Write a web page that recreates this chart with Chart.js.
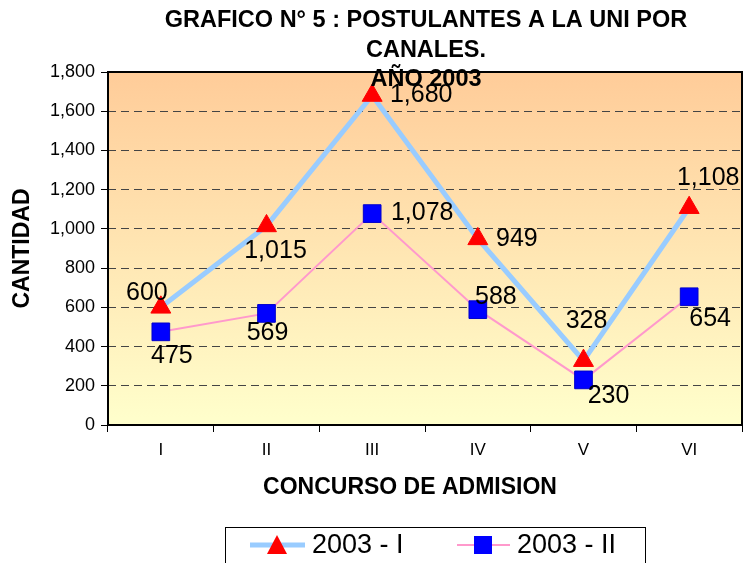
<!DOCTYPE html>
<html>
<head>
<meta charset="utf-8">
<script src="https://cdn.jsdelivr.net/npm/chart.js@4.4.1/dist/chart.umd.min.js"></script>
<style>
  html, body { margin: 0; padding: 0; background: #fff; }
  #wrap { width: 744px; height: 563px; }
</style>
</head>
<body>
<div id="wrap"><canvas id="chart" width="744" height="563"></canvas></div>
<script>
// Data
const categories = ['I', 'II', 'III', 'IV', 'V', 'VI'];
const seriesNames = ['2003 - I', '2003 - II'];
const values2003I = [600, 1015, 1680, 949, 328, 1108];
const values2003II = [475, 569, 1078, 588, 230, 654];
const titleLines = ['GRAFICO N° 5 : POSTULANTES A LA UNI POR', 'CANALES.', 'AÑO 2003'];
const yAxisTitle = 'CANTIDAD';
const xAxisTitle = 'CONCURSO DE ADMISION';

// Label placement relative to each point (style only)
const labelOffsetsI = [[-14, -14], [9, 25], [49, 0], [39, 0], [3, -40], [19, -30]];
const labelOffsetsII = [[11, 24], [1, 20], [50, 0], [18, -13], [25, 16], [21, 22]];

const FONT = '"Liberation Sans", Arial, sans-serif';
const fmt = v => v.toLocaleString('en-US');

/**
 * Gradient plot background, black frame, labels, title and legend
 */
const decorPlugin = {
  id: 'decor',
  beforeDraw(chart) {
    const { ctx, chartArea: a } = chart;
    const g = ctx.createLinearGradient(0, a.top, 0, a.bottom);
    g.addColorStop(0, '#FFCC99');
    g.addColorStop(1, '#FFFFCC');
    ctx.save();
    ctx.fillStyle = g;
    ctx.fillRect(a.left, a.top, a.right - a.left, a.bottom - a.top);
    ctx.restore();
  },
  beforeDatasetsDraw(chart) {
    const { ctx, chartArea: a } = chart;
    ctx.save();
    ctx.strokeStyle = '#000';
    ctx.lineWidth = 2;
    ctx.strokeRect(a.left, a.top, a.right - a.left, a.bottom - a.top);
    ctx.restore();
  },
  afterDatasetsDraw(chart) {
    const { ctx } = chart;
    const offsets = [labelOffsetsI, labelOffsetsII];
    ctx.save();
    ctx.fillStyle = '#000';
    ctx.font = '25px ' + FONT;
    ctx.textAlign = 'center';
    ctx.textBaseline = 'middle';
    chart.data.datasets.forEach((ds, di) => {
      const meta = chart.getDatasetMeta(di);
      meta.data.forEach((pt, i) => {
        const [dx, dy] = offsets[di][i];
        ctx.fillText(fmt(ds.data[i]), pt.x + dx, pt.y + dy);
      });
    });
    ctx.restore();
  },
  afterDraw(chart) {
    const { ctx } = chart;
    ctx.save();
    ctx.fillStyle = '#000';
    ctx.textAlign = 'center';
    ctx.textBaseline = 'middle';

    // Title
    ctx.font = 'bold 23.5px ' + FONT;
    const titleY = [21, 51, 80];
    titleLines.forEach((t, i) => ctx.fillText(t, 426, titleY[i]));

    // X axis title
    ctx.font = 'bold 23px ' + FONT;
    ctx.fillText(xAxisTitle, 410, 488);

    // Legend
    ctx.strokeStyle = '#000';
    ctx.lineWidth = 1;
    ctx.strokeRect(225.5, 527.5, 420, 45);

    ctx.lineWidth = 5;
    ctx.strokeStyle = '#99CCFF';
    ctx.beginPath(); ctx.moveTo(250, 545); ctx.lineTo(305, 545); ctx.stroke();
    ctx.fillStyle = '#FF0000';
    ctx.beginPath();
    ctx.moveTo(277, 535); ctx.lineTo(287, 554); ctx.lineTo(267, 554);
    ctx.closePath(); ctx.fill();

    ctx.lineWidth = 2;
    ctx.strokeStyle = '#FF99CC';
    ctx.beginPath(); ctx.moveTo(457, 545); ctx.lineTo(510, 545); ctx.stroke();
    ctx.fillStyle = '#0000FF';
    ctx.fillRect(474, 536, 18, 18);

    ctx.fillStyle = '#000';
    ctx.font = '27px ' + FONT;
    ctx.textAlign = 'left';
    ctx.fillText(seriesNames[0], 312, 546);
    ctx.fillText(seriesNames[1], 517, 546);
    ctx.restore();
  }
};

const ctx = document.getElementById('chart').getContext('2d');
new Chart(ctx, {
  type: 'line',
  data: {
    labels: categories,
    datasets: [
      {
        label: seriesNames[0],
        data: values2003I,
        borderColor: '#99CCFF',
        borderWidth: 5,
        pointStyle: 'triangle',
        pointRadius: 11.5,
        pointBackgroundColor: '#FF0000',
        pointBorderColor: '#FF0000',
        pointBorderWidth: 1,
        tension: 0,
        fill: false
      },
      {
        label: seriesNames[1],
        data: values2003II,
        borderColor: '#FF99CC',
        borderWidth: 2,
        pointStyle: 'rect',
        pointRadius: 12.5,
        pointBackgroundColor: '#0000FF',
        pointBorderColor: '#0000CC',
        pointBorderWidth: 1,
        tension: 0,
        fill: false
      }
    ]
  },
  options: {
    responsive: false,
    animation: false,
    devicePixelRatio: 1,
    layout: { autoPadding: false, padding: { top: 72, right: 2, bottom: 60, left: 0 } },
    plugins: {
      legend: { display: false },
      title: { display: false },
      tooltip: { enabled: false }
    },
    scales: {
      x: {
        offset: true,
        afterFit: scale => {
          scale.height = 78;
          scale.paddingLeft = 0;
          scale.paddingRight = 0;
        },
        grid: {
          offset: true,
          drawOnChartArea: false,
          drawTicks: true,
          tickLength: 7,
          color: '#000'
        },
        border: { display: false },
        ticks: {
          color: '#000',
          padding: 8,
          font: { family: FONT, size: 17 }
        }
      },
      y: {
        min: 0,
        max: 1800,
        afterFit: scale => { scale.width = 108; },
        ticks: {
          stepSize: 200,
          color: '#000',
          padding: 6,
          font: { family: FONT, size: 18 },
          callback: v => fmt(v)
        },
        grid: {
          color: '#444',
          lineWidth: 1,
          drawTicks: true,
          tickLength: 7,
          tickColor: '#000',
          tickBorderDash: [1, 0]
        },
        border: { display: false, dash: [8, 5] },
        title: {
          display: true,
          text: yAxisTitle,
          color: '#000',
          padding: { top: 9, bottom: 0 },
          font: { family: FONT, size: 23, weight: 'bold' }
        }
      }
    }
  },
  plugins: [decorPlugin]
});
</script>
</body>
</html>
